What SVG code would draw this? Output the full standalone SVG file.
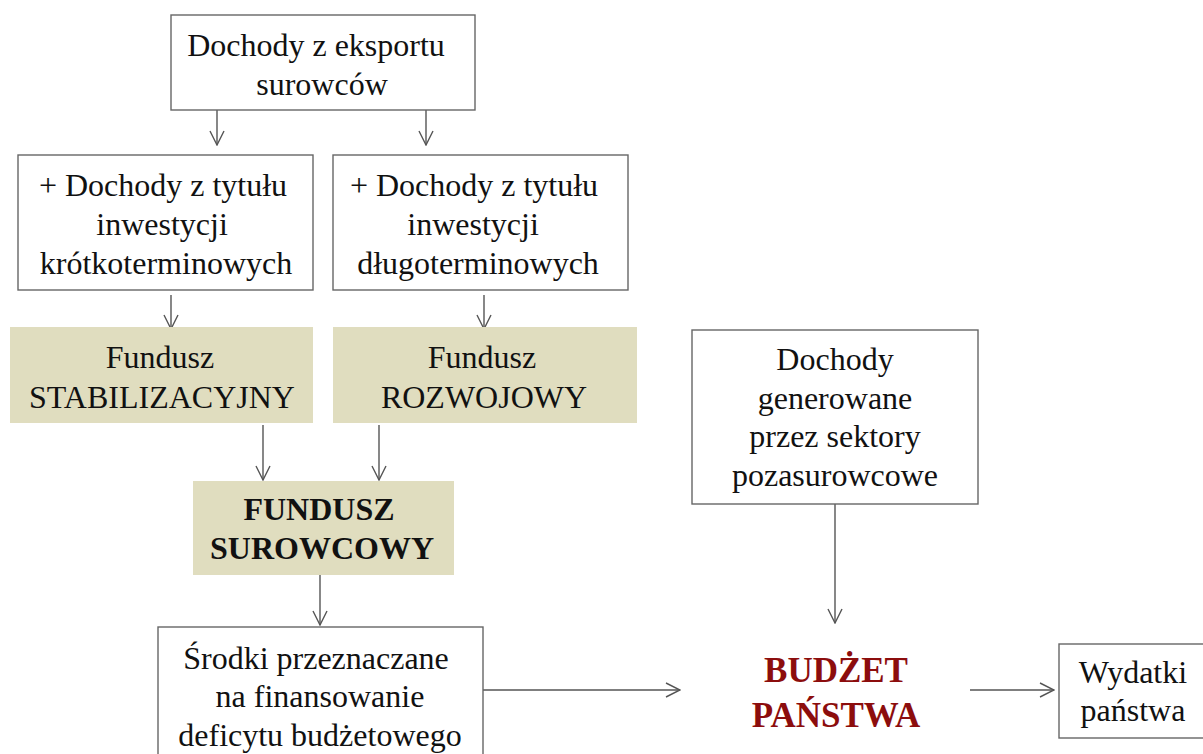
<svg xmlns="http://www.w3.org/2000/svg" width="1203" height="754" viewBox="0 0 1203 754">
  <style>
    .box { fill: #ffffff; stroke: #666666; stroke-width: 1.4; }
    .fund { fill: #e0ddbf; stroke: none; }
    .t { font-family: "Liberation Serif", "Times New Roman", serif; font-size: 32px; fill: #111111; text-anchor: middle; }
    .b { font-weight: bold; }
    .red { font-family: "Liberation Serif", "Times New Roman", serif; font-size: 35px; font-weight: bold; fill: #8c0d0d; text-anchor: middle; }
    .link { stroke: #555555; stroke-width: 1.4; fill: none; marker-end: url(#arrow); }
  </style>
  <defs>
    <marker id="arrow" viewBox="0 0 16 16" refX="15" refY="8" markerWidth="16" markerHeight="16" markerUnits="userSpaceOnUse" orient="auto">
      <polyline points="1,1 15,8 1,15" fill="none" stroke="#555555" stroke-width="1.4"/>
    </marker>
  </defs>

  <g id="connectors">
    <line class="link" x1="217" y1="110" x2="217" y2="145"/>
    <line class="link" x1="426" y1="110" x2="426" y2="145"/>
    <line class="link" x1="171" y1="295" x2="171" y2="329"/>
    <line class="link" x1="484" y1="295" x2="484" y2="329"/>
    <line class="link" x1="263" y1="425" x2="263" y2="480"/>
    <line class="link" x1="379" y1="425" x2="379" y2="480"/>
    <line class="link" x1="320" y1="575" x2="320" y2="625"/>
    <line class="link" x1="483" y1="690" x2="680" y2="690"/>
    <line class="link" x1="835" y1="504" x2="835" y2="623"/>
    <line class="link" x1="970" y1="690" x2="1054" y2="690"/>
  </g>

  <g id="eksport">
    <rect class="box" x="171" y="15" width="304" height="95"/>
    <text class="t" x="316" y="56">Dochody z eksportu</text>
    <text class="t" x="322" y="95">surowców</text>
  </g>

  <g id="krotko">
    <rect class="box" x="18" y="155" width="295" height="135"/>
    <text class="t" x="163" y="196">+ Dochody z tytułu</text>
    <text class="t" x="162" y="235">inwestycji</text>
    <text class="t" x="166" y="274">krótkoterminowych</text>
  </g>

  <g id="dlugo">
    <rect class="box" x="333" y="155" width="295" height="135"/>
    <text class="t" x="474" y="196">+ Dochody z tytułu</text>
    <text class="t" x="473" y="235">inwestycji</text>
    <text class="t" x="478" y="274">długoterminowych</text>
  </g>

  <g id="stabilizacyjny">
    <rect class="fund" x="10" y="327" width="303" height="96"/>
    <text class="t" x="160" y="368">Fundusz</text>
    <text class="t" x="162" y="408">STABILIZACYJNY</text>
  </g>

  <g id="rozwojowy">
    <rect class="fund" x="333" y="327" width="304" height="96"/>
    <text class="t" x="482" y="368">Fundusz</text>
    <text class="t" x="484" y="408">ROZWOJOWY</text>
  </g>

  <g id="surowcowy">
    <rect class="fund" x="193" y="481" width="261" height="94"/>
    <text class="t b" x="319" y="520">FUNDUSZ</text>
    <text class="t b" x="322" y="559">SUROWCOWY</text>
  </g>

  <g id="srodki">
    <rect class="box" x="158" y="627" width="325" height="140"/>
    <text class="t" x="316" y="669">Środki przeznaczane</text>
    <text class="t" x="320" y="707">na finansowanie</text>
    <text class="t" x="320" y="746">deficytu budżetowego</text>
  </g>

  <g id="pozasurowcowe">
    <rect class="box" x="692" y="330" width="286" height="174"/>
    <text class="t" x="835" y="370">Dochody</text>
    <text class="t" x="835" y="409">generowane</text>
    <text class="t" x="835" y="447">przez sektory</text>
    <text class="t" x="835" y="486">pozasurowcowe</text>
  </g>

  <g id="budzet">
    <text class="red" x="836" y="682">BUDŻET</text>
    <text class="red" x="836" y="727">PAŃSTWA</text>
  </g>

  <g id="wydatki">
    <rect class="box" x="1059" y="644" width="150" height="94"/>
    <text class="t" x="1133" y="683">Wydatki</text>
    <text class="t" x="1133" y="721">państwa</text>
  </g>
</svg>
